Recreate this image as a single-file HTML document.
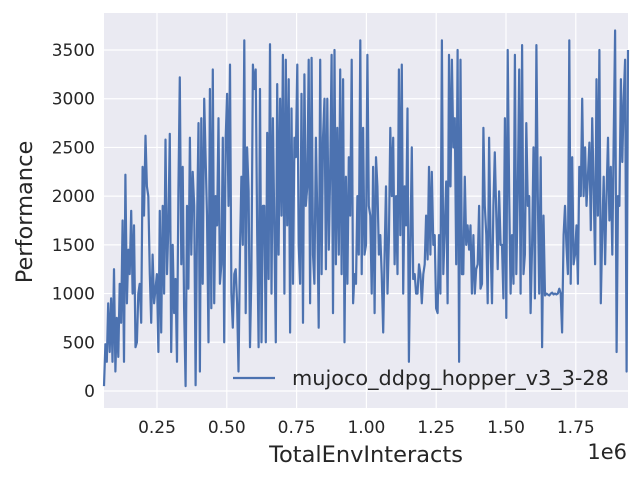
<!DOCTYPE html>
<html><head><meta charset="utf-8"><style>
body{margin:0;background:#fff}
svg text{font-family:"DejaVu Sans","Liberation Sans",sans-serif;fill:#262626}
</style></head><body>
<svg id="chart" width="640" height="480" xmlns="http://www.w3.org/2000/svg">
<rect x="104" y="13" width="524" height="395" fill="#eaeaf2"/>
<g id="grid"></g>
<g id="xticks"></g>
<g id="yticks"></g>
<path id="series" fill="none" stroke="#4c72b0" stroke-width="2.2" stroke-linejoin="round"/>
<text x="366" y="462" font-size="22.5" text-anchor="middle">TotalEnvInteracts</text>
<text x="627" y="459" font-size="21" text-anchor="end">1e6</text>
<text x="32" y="212" font-size="22.5" text-anchor="middle" transform="rotate(-90 32 212)">Performance</text>
<g>
<line x1="233" y1="378" x2="275" y2="378" stroke="#4c72b0" stroke-width="2.2"/>
<text x="292" y="385" font-size="20.8">mujoco_ddpg_hopper_v3_3-28</text>
</g>
</svg>
<script>
const xStart = 0.06e6;
const xEnd = 1.937e6;
const xTicks = [0.25,0.5,0.75,1.0,1.25,1.5,1.75];
const xTickLabels = ["0.25","0.50","0.75","1.00","1.25","1.50","1.75"];
const yTicks = [0,500,1000,1500,2000,2500,3000,3500];
const performance = [50,480,300,900,400,950,300,1250,200,750,350,1100,700,1750,300,2220,900,1450,1200,1850,1000,1700,
450,500,1000,1100,700,2300,1800,2620,2100,2000,1200,700,1400,900,1050,1200,400,
1850,600,1900,1000,2580,1200,1700,2640,400,1500,800,1150,300,2050,3220,1300,2300,850,
50,1900,1050,2600,1400,2250,1900,60,1650,2750,200,2800,1100,3000,2400,1800,
500,3100,850,3300,900,2000,1700,2800,1100,1300,2600,500,2600,3050,1900,3350,1000,650,
1200,1250,900,200,1450,2200,1500,3600,800,2500,2050,450,1200,3350,3100,3300,1600,450,3100,500,1900,
1900,500,2650,1150,3560,1000,2800,1700,500,3150,1400,3000,1800,3450,1000,3400,1700,3200,600,2900,1100,2600,2400,3350,
1500,1100,3050,700,3250,1900,2100,3400,900,3420,1400,1100,2600,1800,650,3400,1200,2600,3000,1250,3000,
1450,2250,3450,800,3500,1300,2700,1400,3300,1200,3200,500,2200,1100,2400,1800,3400,900,
1200,1100,2000,1400,3600,1200,2700,1400,1500,3450,1900,1800,1000,2300,800,2400,2100,1400,1600,1200,600,1400,2100,
1000,1550,2700,2000,2600,1300,2000,1200,3300,1600,3350,1000,2100,1700,2900,300,1500,2500,
1150,1200,1000,1000,1300,1200,900,1200,1300,1800,1350,2300,1400,2250,1500,1600,850,800,1600,
1000,3600,1200,1650,2150,900,3450,2100,3400,2500,2800,1300,3500,300,3400,1200,1200,2200,1500,
1700,1450,1700,1000,1600,1000,1250,1300,1900,1050,1100,2700,1900,1600,900,2600,
1500,900,1900,2450,1800,1250,2050,1500,1500,950,2800,750,3500,2000,1000,1600,1100,
3450,1200,2050,3300,1000,3550,1200,1400,2750,1900,2000,800,1500,2500,950,3550,2000,1000,2400,450,1800,
980,1000,990,980,1000,1010,990,1000,990,1000,1050,1000,600,1600,1900,1500,1200,3600,1100,
2400,1300,1400,1700,1100,2300,2000,3000,2000,2500,1900,2200,2550,1650,2800,2100,1300,3200,1800,3500,900,1600,
2200,1300,2000,2600,1750,2300,1400,2600,3700,400,2000,1900,3200,2350,3000,3400,200,3500];

const NS="http://www.w3.org/2000/svg";
function xScale(v){return 87.2 + v/1e6*279.2;}
function yScale(v){return 391 - v*0.097429;}
const grid=document.getElementById('grid'), xg=document.getElementById('xticks'), yg=document.getElementById('yticks');
xTicks.forEach((t,i)=>{
  const x=xScale(t*1e6);
  const l=document.createElementNS(NS,'line');
  
  
  l.setAttribute('x1',x);l.setAttribute('x2',x);l.setAttribute('y1',13);l.setAttribute('y2',408);
  l.setAttribute('stroke','#fff');l.setAttribute('stroke-width','1.2');grid.appendChild(l);
  const tx=document.createElementNS(NS,'text');
  
  
  tx.setAttribute('x',x);tx.setAttribute('y',433);tx.setAttribute('font-size','17');tx.setAttribute('text-anchor','middle');
  tx.textContent=xTickLabels[i];xg.appendChild(tx);
});
yTicks.forEach(t=>{
  const y=yScale(t);
  const l=document.createElementNS(NS,'line');
  
  
  l.setAttribute('x1',104);l.setAttribute('x2',628);l.setAttribute('y1',y);l.setAttribute('y2',y);
  l.setAttribute('stroke','#fff');l.setAttribute('stroke-width','1.2');grid.appendChild(l);
  const tx=document.createElementNS(NS,'text');
  
  
  tx.setAttribute('x',95);tx.setAttribute('y',y+6);tx.setAttribute('font-size','17');tx.setAttribute('text-anchor','end');
  tx.textContent=String(t);yg.appendChild(tx);
});
const n=performance.length;
let d='';
performance.forEach((v,i)=>{
  const xv=xStart+(xEnd-xStart)*i/(n-1);
  d+=(i?'L':'M')+xScale(xv).toFixed(1)+','+yScale(v).toFixed(1);
});
document.getElementById('series').setAttribute('d',d);
</script>
</body></html>
